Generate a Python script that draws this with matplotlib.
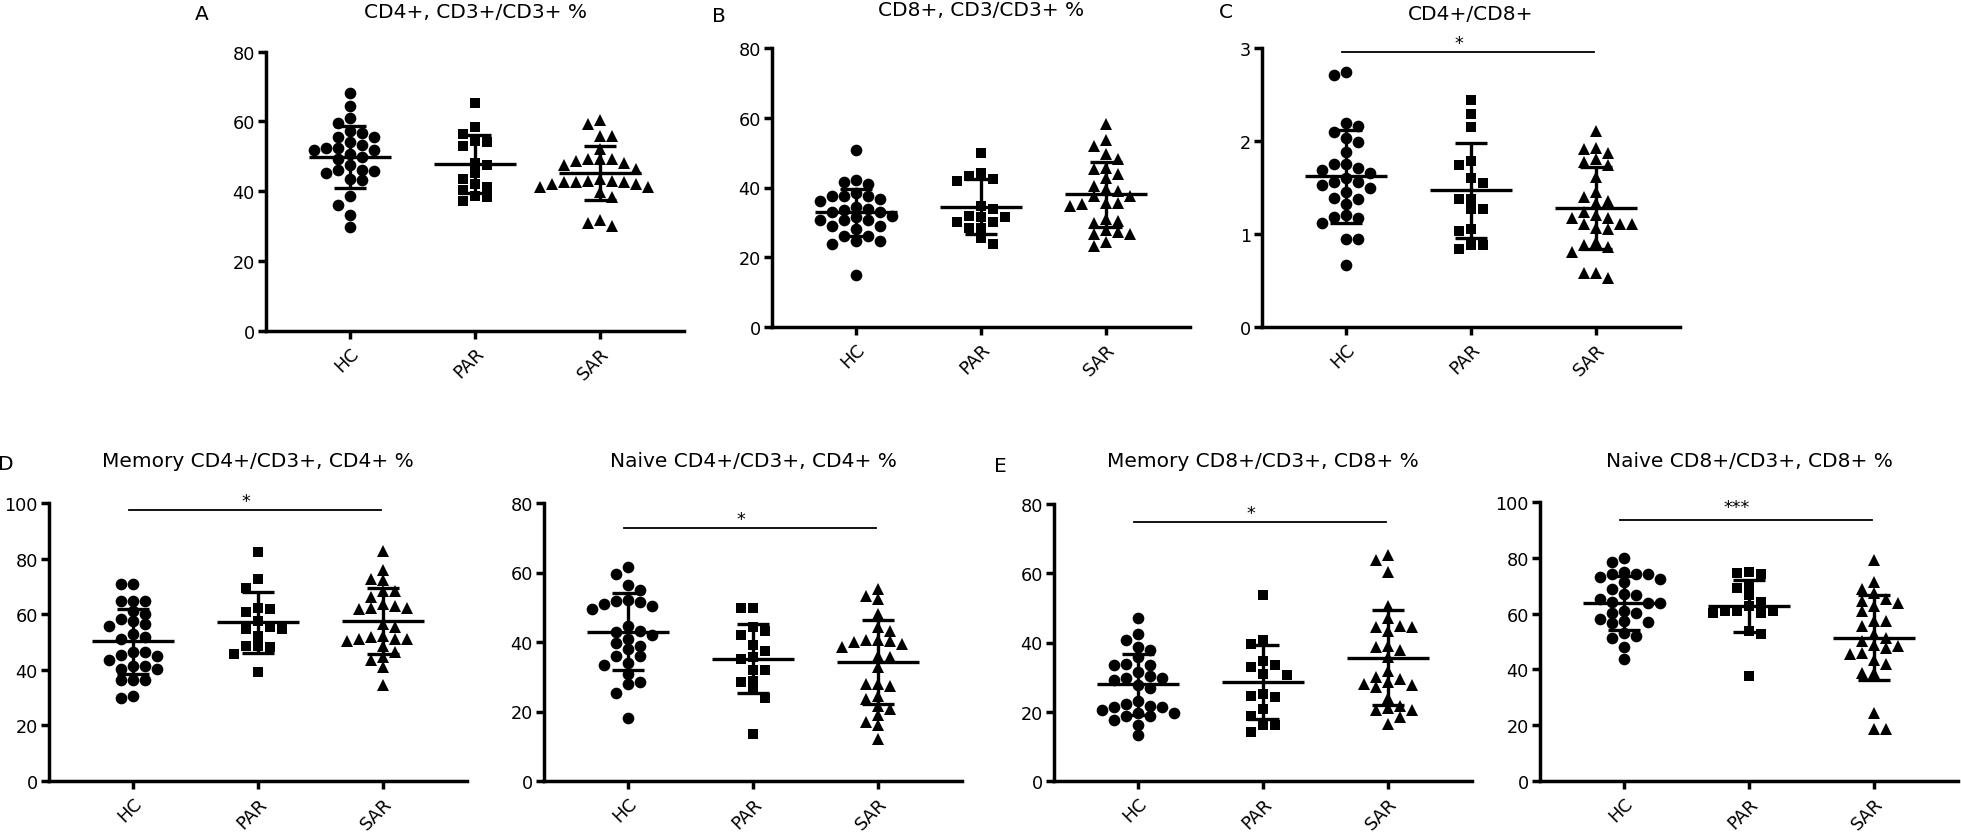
import numpy as np
import matplotlib
matplotlib.use('Agg')
import matplotlib.pyplot as plt

groups = ['HC', 'PAR', 'SAR']

# A: CD4+, CD3+/CD3+ %
a_hc = [68.1, 64.5, 60.9, 59.6, 57.2, 56.6, 55.4, 55.4, 54.2, 53.3, 52.4, 52.4, 51.9, 51.9,
        50.7, 49.7, 49.2, 47.6, 46.1, 46.1, 45.7, 45.2, 43.5, 43.2, 38.7, 36.1, 33.2, 29.8]
a_par = [65.3, 58.5, 56.4, 54.5, 54.2, 53.1, 48.1, 47.6, 45.2, 43.5, 42.1, 41.1, 40.4, 38.7, 38.2, 37.3]
a_sar = [60.5, 59.4, 55.7, 55.7, 52.1, 49.2, 49.2, 49.2, 48.7, 48.2, 47.5, 46.5, 43.5, 43.0,
         43.0, 42.5, 42.5, 42.5, 42.0, 42.0, 41.1, 41.1, 39.7, 38.2, 31.8, 30.9, 30.1]
a_mean = [49.9, 47.8, 45.2]
a_sd = [8.85, 8.4, 7.85]

# B: CD8+, CD3/CD3+ %
b_hc = [50.8, 42.1, 41.5, 41.0, 38.4, 37.6, 37.6, 37.6, 36.7, 36.0, 34.3, 33.8, 33.6, 33.1, 32.9,
        31.7, 31.4, 30.7, 30.7, 30.7, 29.0, 28.8, 28.1, 26.1, 26.1, 24.7, 24.7, 23.8, 14.8]
b_par = [49.9, 44.2, 43.4, 42.4, 42.0, 34.6, 33.8, 31.9, 31.4, 31.4, 30.0, 30.0, 28.5, 28.5, 25.4, 23.8]
b_sar = [58.2, 53.7, 52.0, 49.6, 48.2, 45.5, 45.3, 43.9, 42.6, 40.3, 39.6, 39.1, 37.5, 37.5,
         35.5, 35.5, 35.3, 34.8, 30.9, 30.5, 29.8, 27.9, 27.3, 26.6, 26.6, 24.3, 23.3]
b_mean = [32.9, 34.5, 38.0]
b_sd = [6.7, 7.8, 9.4]

# C: CD4+/CD8+
c_hc = [2.75, 2.71, 2.19, 2.16, 2.10, 2.03, 1.99, 1.88, 1.75, 1.75, 1.71, 1.69, 1.66, 1.60, 1.56,
        1.56, 1.53, 1.50, 1.45, 1.39, 1.38, 1.32, 1.20, 1.18, 1.17, 1.12, 0.95, 0.95, 0.66]
c_par = [2.44, 2.29, 2.15, 1.79, 1.74, 1.60, 1.55, 1.38, 1.38, 1.27, 1.27, 1.05, 1.03, 0.88, 0.88, 0.84]
c_sar = [2.11, 1.93, 1.91, 1.87, 1.81, 1.78, 1.74, 1.61, 1.45, 1.40, 1.35, 1.33, 1.24, 1.20,
         1.17, 1.17, 1.11, 1.11, 1.11, 1.06, 1.05, 0.91, 0.88, 0.86, 0.81, 0.58, 0.58, 0.52]
c_mean = [1.62, 1.47, 1.28]
c_sd = [0.50, 0.51, 0.44]

# D: memory CD4+
dm_hc = [70.9, 70.9, 64.9, 64.9, 64.9, 61.3, 60.1, 58.3, 57.7, 56.5, 55.9, 52.9, 51.7, 51.1,
         46.3, 46.3, 45.4, 45.1, 43.4, 41.2, 41.2, 40.4, 40.4, 36.2, 36.2, 36.2, 30.5, 29.8]
dm_par = [82.3, 72.5, 69.5, 62.2, 61.7, 60.7, 57.7, 55.3, 54.5, 54.5, 52.3, 48.7, 48.5, 48.1, 45.7, 39.2]
dm_sar = [82.9, 75.9, 72.7, 72.3, 68.5, 68.5, 66.3, 63.7, 63.1, 62.2, 62.2, 61.7, 56.5, 55.3,
          52.3, 51.7, 51.1, 50.9, 50.9, 50.5, 48.7, 46.3, 44.6, 43.4, 41.0, 34.4]
dm_mean = [50.2, 57.1, 57.5]
dm_sd = [11.55, 10.9, 11.9]

# D: naive CD4+
dn_hc = [61.7, 59.6, 56.5, 55.0, 52.2, 51.9, 51.6, 51.0, 50.5, 49.5, 44.5, 43.1, 42.8, 41.9,
         40.9, 39.8, 38.8, 38.0, 36.1, 35.9, 34.0, 33.5, 30.8, 28.4, 27.8, 25.4, 18.1]
dn_par = [49.7, 49.7, 44.3, 43.3, 41.9, 39.0, 37.5, 35.6, 35.2, 31.8, 31.8, 28.9, 28.4, 26.1, 23.9, 13.6]
dn_sar = [55.3, 53.1, 52.4, 48.1, 44.3, 43.3, 40.7, 40.7, 40.4, 39.9, 39.5, 38.5, 36.1, 35.6,
          32.8, 28.0, 28.0, 27.3, 24.6, 23.7, 21.7, 20.6, 18.9, 17.1, 16.0, 12.2]
dn_mean = [43.0, 35.2, 34.2]
dn_sd = [11.15, 9.9, 12.1]

# E: memory CD8+
em_hc = [47.0, 42.5, 40.6, 38.7, 37.9, 35.8, 33.8, 33.6, 33.4, 31.4, 30.3, 29.7, 29.7, 29.3, 27.8,
         26.8, 23.1, 22.1, 21.8, 21.3, 21.3, 20.4, 19.7, 19.7, 18.9, 18.9, 17.5, 16.3, 13.2]
em_par = [53.8, 40.6, 39.6, 34.8, 33.4, 32.9, 31.0, 30.7, 25.2, 24.5, 24.2, 20.9, 18.7, 16.3, 16.1, 14.1]
em_sar = [65.3, 63.9, 60.3, 50.5, 47.0, 44.7, 44.4, 44.4, 43.2, 38.9, 38.7, 37.7, 35.8, 31.9,
          30.0, 29.5, 28.6, 27.9, 27.6, 27.1, 23.9, 21.8, 21.1, 20.4, 20.4, 18.5, 16.5]
em_mean = [27.9, 28.6, 35.6]
em_sd = [8.75, 10.55, 13.7]

# E: naive CD8+
en_hc = [80.0, 78.5, 75.0, 74.3, 74.1, 74.1, 73.2, 72.3, 71.3, 68.7, 66.9, 66.5, 65.4, 64.2,
         63.9, 63.9, 60.9, 60.3, 60.3, 57.9, 57.3, 57.1, 56.8, 52.9, 52.0, 51.4, 48.1, 43.6]
en_par = [75.0, 74.7, 74.3, 70.3, 69.3, 66.5, 64.3, 62.7, 60.9, 60.9, 60.9, 60.3, 60.1, 53.8, 52.8, 37.6]
en_sar = [79.2, 71.3, 68.7, 67.3, 65.1, 64.5, 63.9, 62.7, 60.9, 57.3, 57.3, 55.6, 52.8, 51.4,
          50.2, 48.7, 48.4, 47.8, 46.0, 45.4, 43.4, 41.8, 38.8, 38.8, 24.5, 18.5, 18.5]
en_mean = [63.9, 62.7, 51.4]
en_sd = [9.6, 9.45, 15.25]

W, H = 1961, 837
fig = plt.figure(figsize=(W / 100, H / 100), dpi=100)

# title, letter, groups data, means, sds, ymax, ystep, significance, axes box (px), title y, letter pos
panels = [
    ('CD4+, CD3+/CD3+ %', 'A', [a_hc, a_par, a_sar], a_mean, a_sd, 80, 20, None,
     (266, 52.7, 331.7), 12.5, (202, 15)),
    ('CD8+, CD3/CD3+ %', 'B', [b_hc, b_par, b_sar], b_mean, b_sd, 80, 20, None,
     (772, 49.3, 327.7), 10, (719, 17)),
    ('CD4+/CD8+', 'C', [c_hc, c_par, c_sar], c_mean, c_sd, 3, 1, (2.96, '*', 38),
     (1262, 49.3, 327.7), 15, (1226, 12)),
    ('Memory CD4+/CD3+, CD4+ %', 'D', [dm_hc, dm_par, dm_sar], dm_mean, dm_sd, 100, 20, (97.5, '*', 497),
     (49, 504, 782), 462, (6, 465)),
    ('Naive CD4+/CD3+, CD4+ %', None, [dn_hc, dn_par, dn_sar], dn_mean, dn_sd, 80, 20, (72.8, '*', 514),
     (544, 504, 782), 462, None),
    ('Memory CD8+/CD3+, CD8+ %', 'E', [em_hc, em_par, em_sar], em_mean, em_sd, 80, 20, (74.8, '*', 509),
     (1054, 505, 782), 462, (1000, 467)),
    ('Naive CD8+/CD3+, CD8+ %', None, [en_hc, en_par, en_sar], en_mean, en_sd, 100, 20, (93.5, '***', 503),
     (1540, 503, 782), 462, None),
]

markers = ['o', 's', '^']
msizes = [8.4, 7.8, 9.0]
XL = (-0.672, 2.672)
AXW = 418
FS = 12.7


def fx(x):
    return x / W


def fy(y):
    return 1 - y / H


def swarm(vals, px_y, col_w=12.0, min_dy=9.5):
    # points snap to columns; a column takes a point only if no other point
    # in it is closer than min_dy vertically
    vals = np.asarray(vals, dtype=float)
    ys = vals * px_y
    order = np.argsort(-ys, kind='stable')
    cols = {}
    offs = np.zeros(len(vals))
    left, right = 0, 0
    for i in order:
        y = ys[i]
        k = 0
        while True:
            if k == 0:
                tries = [0]
            elif left <= right:
                tries = [-k, k]
            else:
                tries = [k, -k]
            chosen = None
            for c in tries:
                if all(abs(y - py) >= min_dy for py in cols.get(c, [])):
                    chosen = c
                    break
            if chosen is not None:
                break
            k += 1
        cols.setdefault(chosen, []).append(y)
        if chosen < 0:
            left += 1
        elif chosen > 0:
            right += 1
        offs[i] = chosen * col_w
    return offs


for title, letter, data, means, sds, ymax, ystep, sig, box, ty, lpos in panels:
    x0, top, bot = box
    ax = fig.add_axes([fx(x0), fy(bot), AXW / W, (bot - top) / H])
    ax.set_xlim(*XL)
    ax.set_ylim(0, ymax)
    px_x = AXW / (XL[1] - XL[0])
    px_y = (bot - top) / ymax

    for g, vals in enumerate(data):
        offs = swarm(vals, px_y) / px_x
        ax.plot(g + offs, vals, linestyle='none', marker=markers[g], ms=msizes[g],
                color='black', mew=0, zorder=2, clip_on=False)
        m, s = means[g], sds[g]
        ax.plot([g - 0.33, g + 0.33], [m, m], color='black', lw=2.4, zorder=3, solid_capstyle='butt')
        ax.plot([g, g], [m - s, m + s], color='black', lw=2.4, zorder=3, solid_capstyle='butt')
        for v in (m - s, m + s):
            ax.plot([g - 0.13, g + 0.13], [v, v], color='black', lw=2.4, zorder=3, solid_capstyle='butt')

    ticks = np.arange(0, ymax + ystep / 2, ystep)
    ax.set_xticks(range(3))
    ax.set_xticklabels(groups, rotation=45, ha='right', rotation_mode='anchor', fontsize=13)
    ax.set_yticks(ticks)
    ax.set_yticklabels([('%g' % v) for v in ticks], fontsize=FS)
    for sp in ('top', 'right'):
        ax.spines[sp].set_visible(False)
    for sp in ('left', 'bottom'):
        ax.spines[sp].set_linewidth(2.5)
    ax.tick_params(axis='both', direction='out', length=6, width=2.5, pad=2)
    ax.tick_params(axis='x', pad=3.5)

    cx = x0 + AXW / 2
    fig.text(fx(cx), fy(ty), title, ha='center', va='center', fontsize=14.5)
    if letter:
        fig.text(fx(lpos[0]), fy(lpos[1]), letter, ha='center', va='center', fontsize=14.5)
    if sig:
        sy, star, stary = sig
        ax.plot([-0.03, 1.98], [sy, sy], color='black', lw=1.3, clip_on=False)
        fig.text(fx(cx - 12), fy(stary + 10.5), star, ha='center', va='baseline', fontsize=FS)

fig.savefig('out.png', dpi=100)
